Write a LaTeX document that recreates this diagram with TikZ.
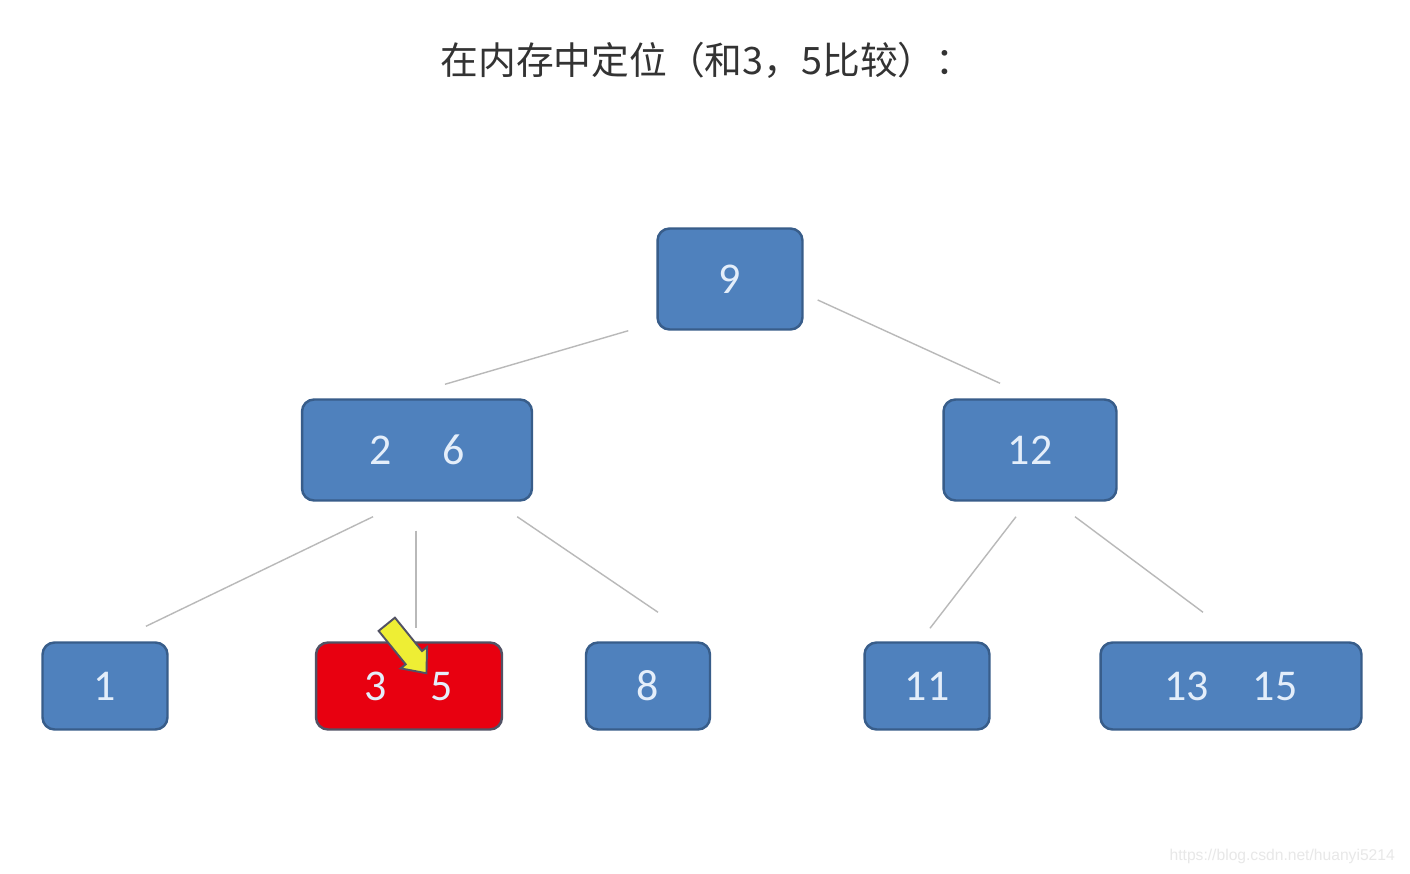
\documentclass[tikz,border=0pt]{standalone}
\usepackage{xcolor}
\usepackage{fontspec}
\setmainfont{Carlito}
\newfontfamily\cjk{Noto Sans CJK SC}
\newfontfamily\wmfont{Liberation Sans}
\usepackage{tikz}
\usetikzlibrary{calc}
\definecolor{nodeblue}{RGB}{79, 129, 189}
\definecolor{nodeedge}{RGB}{56, 93, 138}
\definecolor{hitred}{RGB}{232, 0, 16}
\definecolor{hitedge}{RGB}{82, 82, 100}
\definecolor{keytext}{RGB}{228, 238, 250}
\definecolor{linkgray}{RGB}{185, 185, 185}
\definecolor{pointer}{RGB}{238, 238, 52}
\tikzset{
    keynode/.style={rectangle, draw=nodeedge, fill=nodeblue, line width=1.4pt,
                    rounded corners=0.24cm, inner sep=0pt, text=keytext,
                    font=\fontsize{25}{30}\selectfont, minimum height=2.02cm},
    leafnode/.style={keynode, minimum height=1.74cm},
    hitnode/.style={leafnode, draw=hitedge, fill=hitred},
    link/.style={draw=linkgray, line width=0.8pt},
}
\begin{document}
\begin{tikzpicture}[x=0.02cm, y=-0.02cm]
        \useasboundingbox[fill=white] (0,0) rectangle (1410,874);

        % Title
        \node [font=\cjk\fontsize{21.5}{26}\selectfont, text=black!80] (title) at (707,60)
            {在内存中定位（和3，5比较）：};

        % Root
        \node [keynode, minimum width=2.9cm] (n9) at (730,279) {9};

        % Second level
        \node [keynode, minimum width=4.6cm] (n26) at (417,450) {2\hspace{1.16em}6};
        \node [keynode, minimum width=3.46cm] (n12) at (1030,450) {12};

        % Leaves
        \node [leafnode, minimum width=2.5cm]  (n1)    at (105,686)  {1};
        \node [hitnode,  minimum width=3.72cm] (n35)   at (409,686)  {3\hspace{1em}5};
        \node [leafnode, minimum width=2.48cm] (n8)    at (648,686)  {8};
        \node [leafnode, minimum width=2.5cm]  (n11)   at (927,686)  {11};
        \node [leafnode, minimum width=5.22cm] (n1315) at (1231,686) {13\hspace{1em}15};

        % Links
        \draw [link] ($(n9.south west)+(-28,0)$) -- ($(n26.north)+(28,-14)$);
        \draw [link] ($(n9.east)+(14,21)$)       -- ($(n12.north)+(-30,-15)$);
        \draw [link] ($(n26.south)+(-44,15)$)    -- ($(n1.north)+(41,-15)$);
        \draw [link] ($(n26.south)+(-1,29)$)     -- ($(n35.north)+(7,-13)$);
        \draw [link] ($(n26.south east)+(-16,15)$) -- ($(n8.north)+(10,-29)$);
        \draw [link] ($(n12.south)+(-14,15)$)    -- ($(n11.north)+(3,-13)$);
        \draw [link] ($(n12.south)+(45,15)$)     -- ($(n1315.north)+(-28,-29)$);

        % Search pointer
        \coordinate (ptr) at ($(n35.north west)+(72,-17)$);
        \draw [fill=pointer, draw=hitedge, line width=1.1pt, line join=miter,
               shift={(ptr)}, rotate=-51]
            (0,-10.5) -- (43,-10.5) -- (43,-17) -- (63,0) -- (43,17) -- (43,10.5) -- (0,10.5) -- cycle;

        % Watermark
        \node [anchor=east, font=\wmfont\fontsize{8.9}{10}\selectfont, text=black!9] (mark) at (1401,856)
            {https://blog.csdn.net/huanyi5214};
\end{tikzpicture}
\end{document}
